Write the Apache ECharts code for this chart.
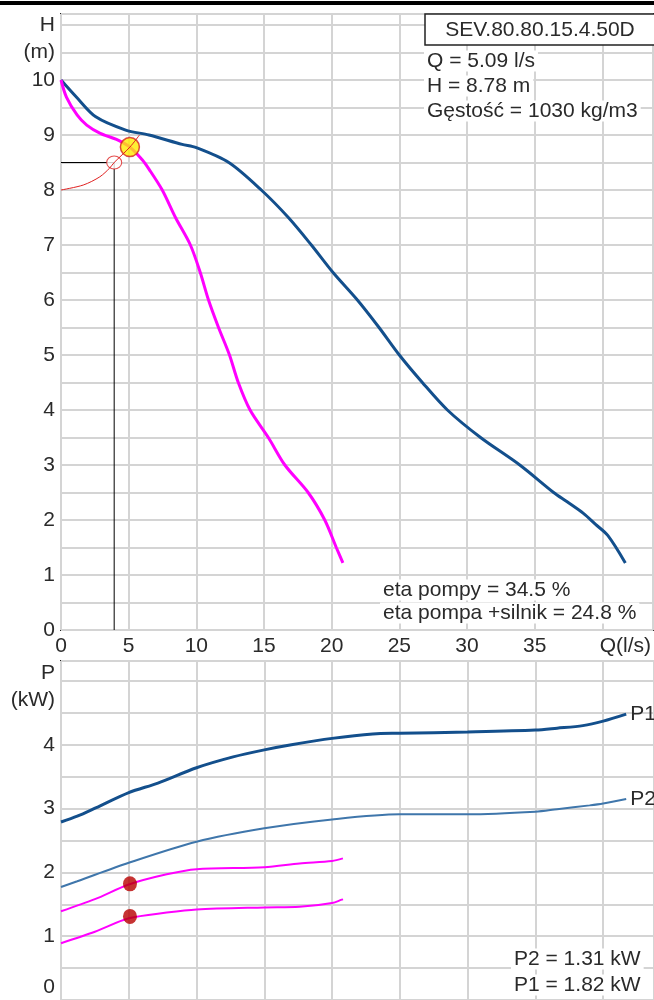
<!DOCTYPE html>
<html><head><meta charset="utf-8">
<script src="https://cdn.jsdelivr.net/npm/echarts@6/dist/echarts.min.js"></script>
<style>html,body{margin:0;padding:0;background:#fff}#c{width:654px;height:1000px}</style>
</head><body><div id="c"></div>
<script>
// ---- Data ----
const MODEL = 'SEV.80.80.15.4.50D';
const INFO_LINES = ['Q = 5.09 l/s', 'H = 8.78 m', 'Gęstość = 1030 kg/m3'];
const ETA_LINES = ['eta pompy = 34.5 %', 'eta pompa +silnik = 24.8 %'];
const POWER_LINES = ['P2 = 1.31 kW', 'P1 = 1.82 kW'];

const Q_LABELS = ['0', '5', '10', '15', '20', '25', '30', '35', 'Q(l/s)'];
const H_LABELS = {0:'0',1:'1',2:'2',3:'3',4:'4',5:'5',6:'6',7:'7',8:'8',9:'9',10:'10',10.5:'(m)',11:'H'};
const P_LABELS = {1:'1',2:'2',3:'3',4:'4'};
const P_UNIT = ['P', '(kW)'];
const P_ZERO = '0';

// full-diameter H(Q)
const Q_HMAX = [0, 1.1, 2.57, 4.78, 6.5, 8.95, 10, 12.4, 14.8, 16.8, 18.5, 20.1, 21.9, 23.5, 25, 26.7, 28.55, 31, 33.9, 36.4, 37.4, 38.6, 39.5, 40.4, 41.7];
const H_HMAX = [10, 9.7, 9.33, 9.09, 9.0, 8.83, 8.77, 8.5, 8.0, 7.5, 7.0, 6.5, 6.0, 5.5, 5.0, 4.5, 4.0, 3.5, 3.0, 2.5, 2.33, 2.12, 1.92, 1.72, 1.22];
// reduced H(Q)
const Q_HRED = [0, 0.4, 1.2, 1.9, 2.9, 4.1, 5.09, 6.0, 6.5, 7.48, 8.46, 9.56, 10.29, 10.9, 11.64, 12.45, 13.1, 13.97, 15.32, 16.54, 18.26, 19.49, 20.34, 20.83];
const H_HRED = [10, 9.69, 9.36, 9.18, 9.03, 8.92, 8.78, 8.55, 8.38, 8.0, 7.5, 7.0, 6.5, 6.0, 5.5, 5.0, 4.5, 4.0, 3.5, 3.0, 2.5, 2.0, 1.5, 1.22];
// system curve
const Q_SYS = [0, 1.64, 2.87, 3.6, 3.93, 5.09, 5.8];
const H_SYS = [8.0, 8.09, 8.24, 8.4, 8.5, 8.78, 9.0];
const OP_POINT = [5.09, 8.78];
const REQ_POINT = [3.93, 8.5];

// power curves
const Q_P1 = [0, 1.2, 2.56, 5, 7.15, 10, 12.7, 15, 17, 20, 23, 25, 30, 35, 36.6, 38.5, 40, 41.7];
const P1_VAL = [2.79, 2.88, 3.01, 3.25, 3.4, 3.64, 3.81, 3.92, 4.0, 4.1, 4.17, 4.18, 4.2, 4.23, 4.26, 4.3, 4.37, 4.48];
const Q_P2 = [0, 1.2, 5, 10, 15, 20, 25, 30, 35, 36.6, 39, 40, 41.7];
const P2_VAL = [1.77, 1.86, 2.15, 2.48, 2.69, 2.83, 2.91, 2.91, 2.95, 2.99, 3.05, 3.08, 3.15];
const Q_SMALL = [0, 2.5, 5, 7.8, 10, 15, 17.6, 20, 20.8];
const P1_SMALL = [1.39, 1.58, 1.81, 1.97, 2.05, 2.08, 2.14, 2.18, 2.22];
const P2_SMALL = [0.89, 1.07, 1.28, 1.37, 1.42, 1.45, 1.46, 1.52, 1.58];
const OP_POWER = [1.82, 1.31];

const zip = (a, b) => a.map((v, i) => [v, b[i]]);
const FONT = '"Liberation Sans", Arial, sans-serif';
const TXT = '#2a2a2a';
const NAVY = '#134f8c';
const MAG = '#ff00ff';
const GRID_LINE = {lineStyle: {color: '#d4d4d4', width: 2}};
const near = (v, t) => Math.abs(v - t) < 1e-6;

function hLabel(v) {
  for (const k in H_LABELS) if (near(v, +k)) return H_LABELS[k];
  return '';
}
function pLabel(v) {
  for (const k in P_LABELS) if (near(v, +k)) return P_LABELS[k];
  return '';
}
function qLabel(v) {
  const i = Math.round(v / 5);
  if (!near(v, i * 5) || i >= Q_LABELS.length) return '';
  if (i === Q_LABELS.length - 1) return '{q|' + Q_LABELS[i] + '}';
  return Q_LABELS[i];
}

function txt(text, x, y, align, bg) {
  return {
    type: 'text', z: 100, x: x, y: y,
    style: {
      text: text, font: '21px ' + FONT, fill: TXT,
      textAlign: align, align: align, textVerticalAlign: 'middle', verticalAlign: 'middle',
      backgroundColor: bg ? '#fff' : undefined, padding: bg ? [0, 3, 0, 3] : undefined
    }
  };
}

const graphics = [
  {type: 'rect', z: 100, shape: {x: 0, y: 1, width: 654, height: 4}, style: {fill: '#000'}},
  {type: 'rect', z: 100, shape: {x: 425, y: 14, width: 240, height: 31}, style: {fill: '#fff', stroke: '#222', lineWidth: 1.5}},
  txt(MODEL, 540, 30, 'center', false),
  txt(P_UNIT[0], 55, 673, 'right', false),
  txt(P_UNIT[1], 55, 700, 'right', false),
  txt(P_ZERO, 55, 987, 'right', false)
];
INFO_LINES.forEach((t, i) => graphics.push(txt(t, 424, 61 + i * 25, 'left', true)));
ETA_LINES.forEach((t, i) => graphics.push(txt(t, 380, 590 + i * 23, 'left', true)));
POWER_LINES.forEach((t, i) => graphics.push(txt(t, 511, 959 + i * 26, 'left', true)));

const chart = echarts.init(document.getElementById('c'), null, {renderer: 'canvas'});
chart.setOption({
  animation: false,
  backgroundColor: '#fff',
  textStyle: {fontFamily: FONT},
  grid: [
    {left: 61, top: 14, width: 595, height: 616, show: true, borderColor: '#222', borderWidth: 2},
    {left: 61, top: 661, width: 595, height: 340, show: true, borderColor: '#222', borderWidth: 2}
  ],
  xAxis: [
    {gridIndex: 0, type: 'value', min: 0, max: 43.75, interval: 5,
     axisLine: {show: false}, axisTick: {show: false}, splitLine: GRID_LINE,
     axisLabel: {formatter: qLabel, fontSize: 21, color: TXT, fontFamily: FONT, margin: 6, showMaxLabel: false,
                 rich: {q: {fontSize: 21, color: TXT, fontFamily: FONT, padding: [0, 0, 0, 46]}}}},
    {gridIndex: 1, type: 'value', min: 0, max: 43.75, interval: 5,
     axisLine: {show: false}, axisTick: {show: false}, splitLine: GRID_LINE, axisLabel: {show: false}}
  ],
  yAxis: [
    {gridIndex: 0, type: 'value', min: 0, max: 11.2, interval: 0.5,
     axisLine: {show: false}, axisTick: {show: false}, splitLine: GRID_LINE,
     axisLabel: {formatter: hLabel, fontSize: 21, color: TXT, fontFamily: FONT, margin: 6}},
    {gridIndex: 1, type: 'value', min: 0, max: 5.3125, interval: 0.5,
     axisLine: {show: false}, axisTick: {show: false}, splitLine: GRID_LINE,
     axisLabel: {formatter: pLabel, fontSize: 21, color: TXT, fontFamily: FONT, margin: 6}}
  ],
  series: [
    {type: 'line', xAxisIndex: 0, yAxisIndex: 0, data: zip(Q_HMAX, H_HMAX), showSymbol: false, symbol: 'none',
     smooth: 0.3, lineStyle: {color: NAVY, width: 3}, z: 3},
    {type: 'line', xAxisIndex: 0, yAxisIndex: 0, data: zip(Q_HRED, H_HRED), showSymbol: false, symbol: 'none',
     smooth: 0.3, lineStyle: {color: MAG, width: 3}, z: 3},
    {type: 'line', xAxisIndex: 0, yAxisIndex: 0, data: [[0, REQ_POINT[1]], REQ_POINT, [REQ_POINT[0], 0]],
     showSymbol: false, symbol: 'none', lineStyle: {color: '#000', width: 1}, z: 3},
    {type: 'scatter', xAxisIndex: 0, yAxisIndex: 0, data: [REQ_POINT], symbol: 'circle', symbolSize: [15, 13],
     itemStyle: {color: '#fff', borderColor: '#dd2222', borderWidth: 1}, z: 4},
    {type: 'scatter', xAxisIndex: 0, yAxisIndex: 0, data: [OP_POINT], symbol: 'circle', symbolSize: 19,
     itemStyle: {color: '#ffea00', borderColor: '#d42020', borderWidth: 1.5}, z: 4},
    {type: 'line', xAxisIndex: 0, yAxisIndex: 0, data: zip(Q_SYS, H_SYS), showSymbol: false, symbol: 'none',
     smooth: 0.3, lineStyle: {color: '#e02020', width: 1}, z: 5},

    {type: 'line', xAxisIndex: 1, yAxisIndex: 1, data: zip(Q_P1, P1_VAL), showSymbol: false, symbol: 'none',
     smooth: 0.3, lineStyle: {color: NAVY, width: 3}, z: 3,
     endLabel: {show: true, formatter: 'P1', distance: 4, fontSize: 21, color: TXT, fontFamily: FONT}},
    {type: 'line', xAxisIndex: 1, yAxisIndex: 1, data: zip(Q_P2, P2_VAL), showSymbol: false, symbol: 'none',
     smooth: 0.3, lineStyle: {color: '#3f76ab', width: 2}, z: 3,
     endLabel: {show: true, formatter: 'P2', distance: 4, fontSize: 21, color: TXT, fontFamily: FONT}},
    {type: 'line', xAxisIndex: 1, yAxisIndex: 1, data: zip(Q_SMALL, P1_SMALL), showSymbol: false, symbol: 'none',
     smooth: 0.3, lineStyle: {color: MAG, width: 2}, z: 3},
    {type: 'line', xAxisIndex: 1, yAxisIndex: 1, data: zip(Q_SMALL, P2_SMALL), showSymbol: false, symbol: 'none',
     smooth: 0.3, lineStyle: {color: MAG, width: 2}, z: 3},
    {type: 'scatter', xAxisIndex: 1, yAxisIndex: 1, data: OP_POWER.map(p => [OP_POINT[0], p]), symbol: 'circle',
     symbolSize: [14, 15], itemStyle: {color: '#b80000'}, z: 4}
  ],
  graphic: graphics
});
</script></body></html>
